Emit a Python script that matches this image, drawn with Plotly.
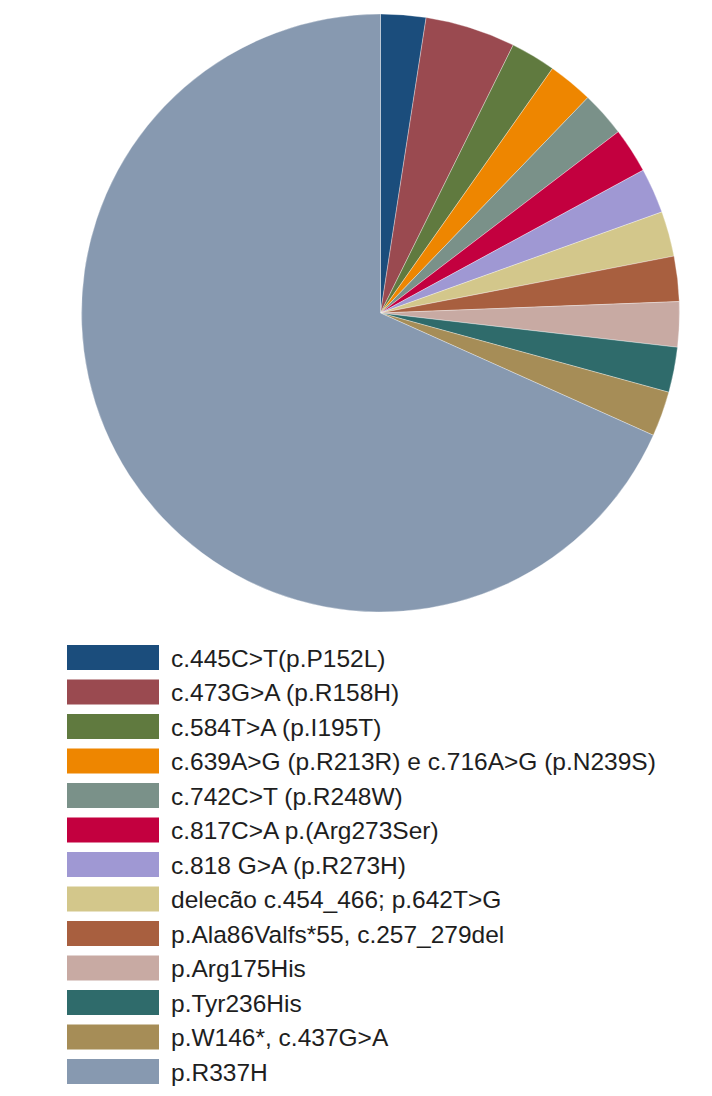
import plotly.graph_objects as go

labels = [
    "c.445C>T(p.P152L)",
    "c.473G>A (p.R158H)",
    "c.584T>A (p.I195T)",
    "c.639A>G (p.R213R) e c.716A>G (p.N239S)",
    "c.742C>T (p.R248W)",
    "c.817C>A p.(Arg273Ser)",
    "c.818 G>A (p.R273H)",
    "delecão c.454_466; p.642T>G",
    "p.Ala86Valfs*55, c.257_279del",
    "p.Arg175His",
    "p.Tyr236His",
    "p.W146*, c.437G>A",
    "p.R337H",
]
values = [1, 2, 1, 1, 1, 1, 1, 1, 1, 1, 1, 1, 28]
colors = [
    "#1b4d7c", "#9a4a50", "#607a3f", "#ee8600", "#7a9189", "#c3003f",
    "#9f98d3", "#d3c78b", "#a85f3f", "#c8aaa3", "#2f6b6b", "#a68d57", "#8799b0",
]

OFF = 8  # page body margin
W, H = 712 - OFF, 1096 - OFF


def px(x):
    return (x - OFF) / W


def py(y):
    return 1 - (y - OFF) / H


fig = go.Figure()
fig.add_trace(go.Pie(
    labels=labels,
    values=values,
    marker=dict(colors=colors, line=dict(color="rgba(255,255,255,0.55)", width=0.6)),
    sort=False,
    direction="clockwise",
    rotation=0,
    textinfo="none",
    hoverinfo="label+value",
    showlegend=False,
    domain=dict(x=[px(81), px(680)], y=[py(612), py(14)]),
))

shapes = []
annotations = []
y0 = 657.5
step = 34.5
for i, (lab, col) in enumerate(zip(labels, colors)):
    yc = y0 + i * step
    shapes.append(dict(
        type="rect", xref="paper", yref="paper",
        x0=px(67), x1=px(159),
        y0=py(yc + 12.5), y1=py(yc - 12.5),
        fillcolor=col, line=dict(width=0),
    ))
    annotations.append(dict(
        xref="paper", yref="paper", x=px(169), y=py(yc + 0.5),
        xanchor="left", yanchor="middle", showarrow=False, text=lab,
        font=dict(family="Liberation Sans, Arial, sans-serif", size=24.5, color="#1e1e1e"),
    ))

fig.update_layout(
    width=W, height=H,
    margin=dict(l=0, r=0, t=0, b=0),
    paper_bgcolor="white", plot_bgcolor="white",
    shapes=shapes, annotations=annotations,
)

fig.write_html("out.html")
